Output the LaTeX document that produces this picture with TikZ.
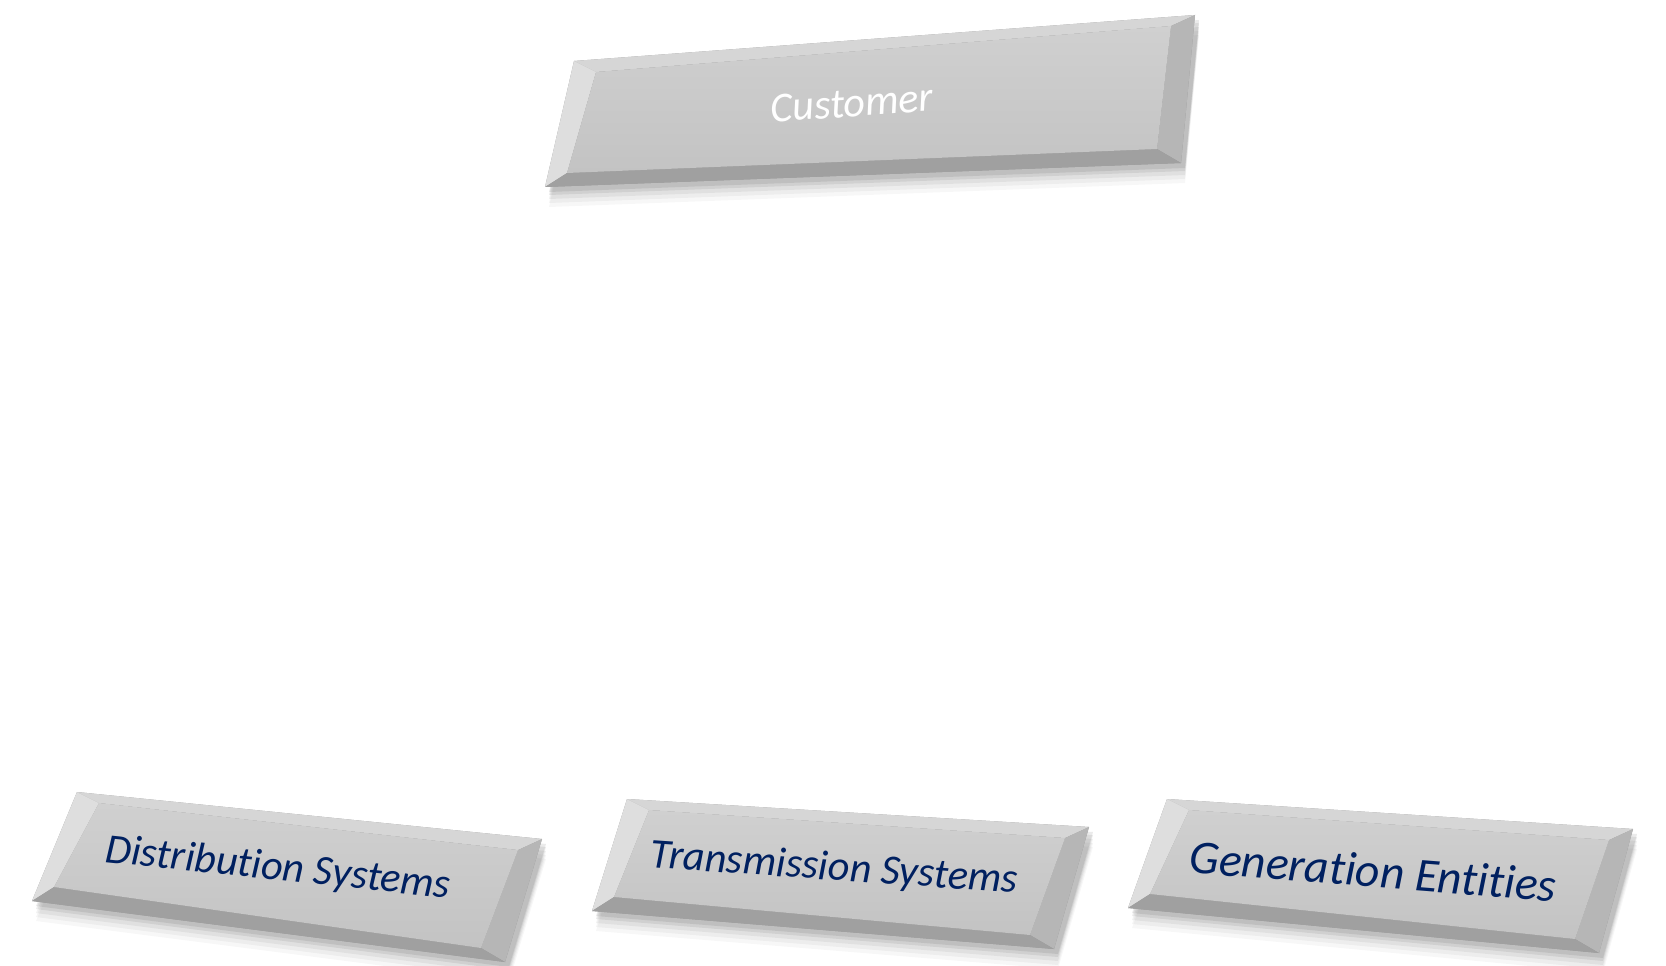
\documentclass[tikz,border=0pt]{standalone}
\usepackage{fontspec}
\setmainfont[Ligatures=NoCommon]{Carlito}
\usetikzlibrary{calc}
\definecolor{platenavy}{RGB}{0,32,96}
\definecolor{platebase}{RGB}{150,150,150}
\definecolor{bevtopc}{RGB}{214,214,214}
\definecolor{bevleftc}{RGB}{222,222,222}
\definecolor{bevrightc}{RGB}{182,182,182}
\definecolor{bevbottomc}{RGB}{160,160,160}
\tikzstyle{plabel} = [font=\itshape\fontsize{24}{28}\selectfont, text=platenavy, inner sep=0pt]
\tikzstyle{pface} = [top color={rgb,255:red,208;green,208;blue,208}, bottom color={rgb,255:red,195;green,195;blue,195}]
\newcommand{\platecorners}[5]{
	\coordinate (#1-tl) at #2;
	\coordinate (#1-tr) at #3;
	\coordinate (#1-br) at #4;
	\coordinate (#1-bl) at #5;
	\coordinate (#1-itl) at ($(#1-tl)+(22,-11)$);
	\coordinate (#1-itr) at ($(#1-tr)+(-24,-11)$);
	\coordinate (#1-ibr) at ($(#1-br)+(-24,14)$);
	\coordinate (#1-ibl) at ($(#1-bl)+(22,14)$);
}
\newcommand{\plateoutline}[1]{
	% soft shadow, a few faint layers
	\foreach \d/\o in {20/0.03,16/0.04,12/0.05,8/0.07,5/0.08}{
		\fill[black,opacity=\o] ($(#1-tl)+(4,-\d)$) -- ($(#1-tr)+(4,-\d)$) -- ($(#1-br)+(4,-\d)$) -- ($(#1-bl)+(4,-\d)$) -- cycle;
	}
	\fill[platebase] (#1-tl) -- (#1-tr) -- (#1-br) -- (#1-bl) -- cycle;
	\fill[bevtopc] (#1-tl) -- (#1-tr) -- (#1-itr) -- (#1-itl) -- cycle;
	\fill[bevleftc] (#1-tl) -- (#1-itl) -- (#1-ibl) -- (#1-bl) -- cycle;
	\fill[bevrightc] (#1-tr) -- (#1-br) -- (#1-ibr) -- (#1-itr) -- cycle;
	\fill[bevbottomc] (#1-bl) -- (#1-ibl) -- (#1-ibr) -- (#1-br) -- cycle;
	\shade[pface] (#1-itl) -- (#1-itr) -- (#1-ibr) -- (#1-ibl) -- cycle;
}

\begin{document}
\begin{tikzpicture}[x=0.02cm,y=0.02cm]
	\useasboundingbox[fill=white] (0,0) rectangle (1666,965);

	\platecorners{cust}{(574,904)}{(1195,950)}{(1181,802)}{(545,778)};
	\plateoutline{cust};
	\node (cust-label) [plabel, text=white, rotate=4] at (852,862) {Customer};

	\platecorners{dist}{(77,173)}{(542,126)}{(505,3)}{(32,64)};
	\plateoutline{dist};
	\node (dist-label) [plabel, rotate=-6] at (278,96) {Distribution Systems};

	\platecorners{trans}{(627,166)}{(1089,138)}{(1054,16)}{(592,54)};
	\plateoutline{trans};
	\node (trans-label) [plabel, rotate=-4] at (834,96) {Transmission Systems};

	\platecorners{gen}{(1167,166)}{(1633,136)}{(1599,12)}{(1128,57)};
	\plateoutline{gen};
	\node (gen-label) [plabel, font=\itshape\fontsize{27}{31}\selectfont, rotate=-4.5] at (1373,94) {Generation Entities};
\end{tikzpicture}
\end{document}
